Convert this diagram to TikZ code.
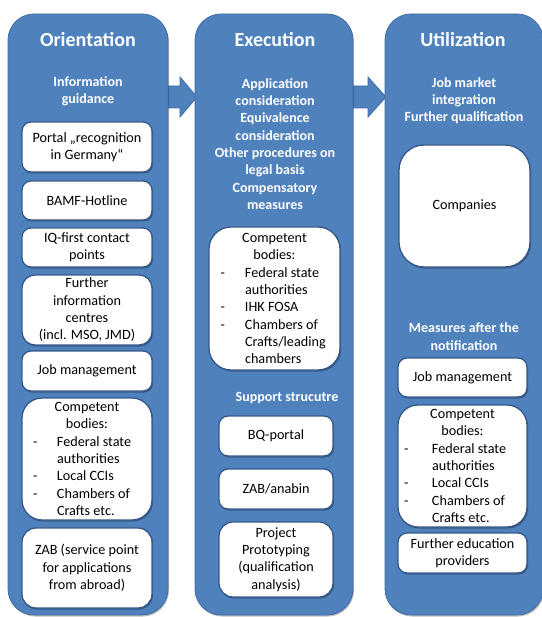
\documentclass[tikz,border=0pt]{standalone}
\usepackage{fontspec}
\setmainfont{Carlito}
\usetikzlibrary{shadows}
\definecolor{boxblue}{HTML}{4F81BD}
\definecolor{boxline}{HTML}{3F6DA4}
\definecolor{inline}{HTML}{35588A}
\tikzset{
  bigbox/.style={draw=boxline, line width=0.8pt, fill=boxblue, rounded corners=26pt,
    drop shadow={shadow xshift=1pt, shadow yshift=-1.5pt, opacity=0.25, fill=black}},
  wbox/.style={draw=inline, line width=1.3pt, fill=white, rounded corners=9pt,
    drop shadow={shadow xshift=1pt, shadow yshift=-1.5pt, opacity=0.3, fill=black},
    align=center, inner sep=0pt, font=\fontsize{14.2}{17.3}\selectfont},
  titletext/.style={text=white, font=\fontsize{20}{24}\selectfont\bfseries},
  subtext/.style={text=white, align=center, inner sep=0pt, font=\fontsize{14}{17.3}\selectfont\bfseries},
  blockarrow/.style={draw=boxline, line width=0.8pt, fill=boxblue}
}
\begin{document}
\begin{tikzpicture}[x=1pt,y=-1pt]
\useasboundingbox (0,0) rectangle (541,617);
% block arrows
\draw[blockarrow] (160,86) -- (180,86) -- (180,77) -- (197,97) -- (180,117) -- (180,108) -- (160,108);
\draw[blockarrow] (346,86) -- (368,86) -- (368,77) -- (386,97) -- (368,117) -- (368,108) -- (346,108);
% columns
\node[bigbox, minimum width=160pt, minimum height=601pt] (O) at (88,314.5) {};
\node[bigbox, minimum width=158pt, minimum height=601pt] (E) at (274,314.5) {};
\node[bigbox, minimum width=158pt, minimum height=601pt] (U) at (464,314.5) {};
% titles
\node[titletext] (Ot) at (88,40) {Orientation};
\node[titletext] (Et) at (275,40) {Execution};
\node[titletext] (Ut) at (463,40) {Utilization};
% Orientation
\node[subtext] (Os) at (88,91.5) {Information\\guidance};
\node[wbox, minimum width=130pt, minimum height=50pt] (O1) at (87,147) {Portal „recognition\\in Germany“};
\node[wbox, minimum width=130pt, minimum height=39pt] (O2) at (87,200.5) {BAMF-Hotline};
\node[wbox, minimum width=130pt, minimum height=39pt] (O3) at (87,247.5) {IQ-first contact\\points};
\node[wbox, minimum width=130pt, minimum height=70pt, rounded corners=13pt] (O4) at (87,310) {Further\\information\\centres\\(incl. MSO, JMD)};
\node[wbox, minimum width=130pt, minimum height=40pt] (O5) at (87,371) {Job management};
\node[wbox, minimum width=130pt, minimum height=122pt, rounded corners=20pt] (O6) at (87,459) {Competent\\bodies:\\
  \makebox[108pt][l]{\makebox[24pt][l]{-}Federal state}\\
  \makebox[108pt][l]{\hspace*{24pt}authorities}\\
  \makebox[108pt][l]{\makebox[24pt][l]{-}Local CCIs}\\
  \makebox[108pt][l]{\makebox[24pt][l]{-}Chambers of}\\
  \makebox[108pt][l]{\hspace*{24pt}Crafts etc.}};
\node[wbox, minimum width=130pt, minimum height=80pt, rounded corners=14pt] (O7) at (87,568) {ZAB (service point\\for applications\\from abroad)};
% Execution
\node[subtext] (Es) at (275,144) {Application\\consideration\\Equivalence\\consideration\\Other procedures on\\legal basis\\Compensatory\\measures};
\node[wbox, minimum width=131pt, minimum height=143pt, rounded corners=22pt] (E1) at (274.5,298.5) {Competent\\bodies:\\
  \makebox[108pt][l]{\makebox[24.5pt][l]{-}Federal state}\\
  \makebox[108pt][l]{\hspace*{24.5pt}authorities}\\
  \makebox[108pt][l]{\makebox[24.5pt][l]{-}IHK FOSA}\\
  \makebox[108pt][l]{\makebox[24.5pt][l]{-}Chambers of}\\
  \makebox[108pt][l]{\hspace*{24.5pt}Crafts/leading}\\
  \makebox[108pt][l]{\hspace*{24.5pt}chambers}};
\node[subtext] (Ess) at (287,398) {Support strucutre};
\node[wbox, minimum width=114pt, minimum height=40pt] (E2) at (276,436) {BQ-portal};
\node[wbox, minimum width=114pt, minimum height=40pt] (E3) at (276,489) {ZAB/anabin};
\node[wbox, minimum width=114pt, minimum height=75pt, rounded corners=14pt] (E4) at (276,559.5) {Project\\Prototyping\\(qualification\\analysis)};
% Utilization
\node[subtext] (Us) at (464,100.5) {Job market\\integration\\Further qualification};
\node[wbox, minimum width=131pt, minimum height=122pt, rounded corners=25pt] (U1) at (464.5,206) {Companies};
\node[subtext] (Uss) at (464,336.5) {Measures after the\\notification};
\node[wbox, minimum width=129pt, minimum height=39pt] (U2) at (462.5,377.5) {Job management};
\node[wbox, minimum width=129pt, minimum height=122pt, rounded corners=20pt] (U3) at (462.5,466) {Competent\\bodies:\\
  \makebox[117pt][l]{\makebox[28pt][l]{-}Federal state}\\
  \makebox[117pt][l]{\hspace*{28pt}authorities}\\
  \makebox[117pt][l]{\makebox[28pt][l]{-}Local CCIs}\\
  \makebox[117pt][l]{\makebox[28pt][l]{-}Chambers of}\\
  \makebox[117pt][l]{\hspace*{28pt}Crafts etc.}};
\node[wbox, minimum width=129pt, minimum height=40pt] (U4) at (462.5,553) {Further education\\providers};
\end{tikzpicture}
\end{document}
